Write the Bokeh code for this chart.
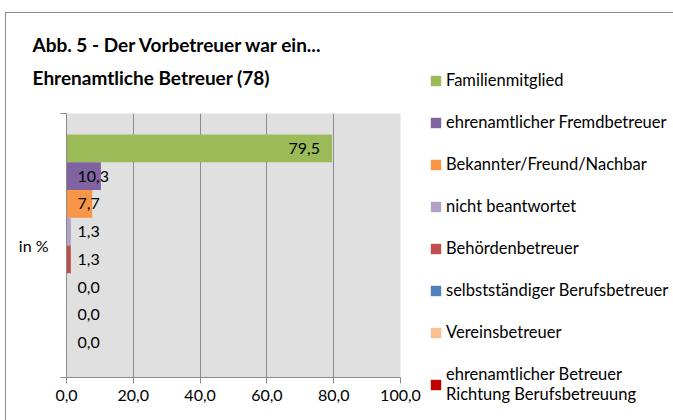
from bokeh.plotting import figure
from bokeh.models import (ColumnDataSource, Range1d, FixedTicker, Legend, LegendItem, Title)
from bokeh.core.properties import value
from bokeh.embed import file_html
from bokeh.resources import INLINE

# ---- data ----
categories = ["Familienmitglied", "ehrenamtlicher Fremdbetreuer", "Bekannter/Freund/Nachbar",
              "nicht beantwortet", "Behördenbetreuer", "selbstständiger Berufsbetreuer",
              "Vereinsbetreuer", "ehrenamtlicher Betreuer\nRichtung Berufsbetreuung"]
values = [79.5, 10.3, 7.7, 1.3, 1.3, 0.0, 0.0, 0.0]
colors = ["#9BBB59", "#8064A2", "#F79646", "#B3A2C7", "#C0504D", "#4F81BD", "#FAC090", "#C00000"]
x_ticks = [0, 20, 40, 60, 80, 100]
x_tick_labels = ["0,0", "20,0", "40,0", "60,0", "80,0", "100,0"]
group_label = "in %"
title_lines = ["Abb. 5 - Der Vorbetreuer war ein...", "Ehrenamtliche Betreuer (78)"]

FONT = "Lato"
GRAY = "#8A8A8A"

n = len(values)
gap = 0.08
h = (1 - 2 * gap) / n
ys = [1 - gap - (i + 0.5) * h for i in range(n)]
labels = [f"{v:.1f}".replace(".", ",") for v in values]

p = figure(frame_width=334, frame_height=264, output_backend="svg", toolbar_location=None,
           x_range=Range1d(0, 100), y_range=Range1d(0, 1),
           min_border_left=61, min_border_right=273, min_border_top=101, min_border_bottom=43,
           margin=(12, 0, 0, 5))
p.styles = {"box-shadow": "inset 1px 1px 0 0 #8a8a8a"}
p.border_fill_alpha = 0
p.background_fill_color = "#E0E0E0"
p.outline_line_color = None

items = []
for i in range(n):
    src = ColumnDataSource(dict(y=[ys[i]], right=[values[i]]))
    r = p.hbar(y="y", left=0, right="right", height=h, source=src,
               fill_color=colors[i], line_color=None)
    items.append(LegendItem(label=categories[i], renderers=[r]))

big = [i for i in range(n) if values[i] >= 20]
small = [i for i in range(n) if values[i] < 20]
p.text(x=[values[i] for i in big], y=[ys[i] for i in big], text=[labels[i] for i in big],
       text_align="right", text_baseline="middle", x_offset=-12,
       text_font=value(FONT), text_font_size="16px", text_color="#000000")
p.text(x=[0 for i in small], y=[ys[i] for i in small], text=[labels[i] for i in small],
       text_align="left", text_baseline="middle", x_offset=11,
       text_font=value(FONT), text_font_size="16px", text_color="#000000")

# axes
xa = p.xaxis[0]
xa.ticker = FixedTicker(ticks=x_ticks)
xa.major_label_overrides = {t: l for t, l in zip(x_ticks, x_tick_labels)}
xa.axis_line_color = GRAY
xa.major_tick_line_color = GRAY
xa.major_tick_in = 0
xa.major_tick_out = 6
xa.minor_tick_line_color = None
xa.major_label_text_font = FONT
xa.major_label_text_font_size = "16px"
xa.major_label_text_color = "#000000"
xa.major_label_standoff = 6

ya = p.yaxis[0]
ya.ticker = FixedTicker(ticks=[0.5], minor_ticks=[0, 1])
ya.major_label_overrides = {0.5: group_label}
ya.axis_line_color = GRAY
ya.major_tick_line_color = None
ya.major_tick_in = 0
ya.major_tick_out = 0
ya.minor_tick_line_color = GRAY
ya.minor_tick_in = 0
ya.minor_tick_out = 6
ya.major_label_text_font = FONT
ya.major_label_text_font_size = "16px"
ya.major_label_text_color = "#000000"
ya.major_label_standoff = 12

p.xgrid.ticker = FixedTicker(ticks=x_ticks)
p.xgrid.grid_line_color = GRAY
p.ygrid.grid_line_color = None

# title: spacer closest to the plot, then line 2, then line 1
p.add_layout(Title(text=" ", text_font=FONT, text_font_size="10px", standoff=7), "above")
p.add_layout(Title(text=title_lines[1], align="left", offset=-34, standoff=8,
                   text_font=FONT, text_font_style="bold", text_font_size="19px",
                   text_color="#000000"), "above")
p.add_layout(Title(text=title_lines[0], align="left", offset=-34, standoff=8,
                   text_font=FONT, text_font_style="bold", text_font_size="19px",
                   text_color="#000000"), "above")

legend = Legend(items=items, location=(29, -27), orientation="vertical",
                padding=0, margin=0, border_line_color=None, background_fill_alpha=0,
                glyph_width=13, glyph_height=13, label_height=13, spacing=22,
                label_standoff=4, label_text_font=FONT, label_text_font_size="16.5px",
                label_text_color="#000000")
p.add_layout(legend, "right")

open("out.html", "w").write(file_html(p, INLINE))
